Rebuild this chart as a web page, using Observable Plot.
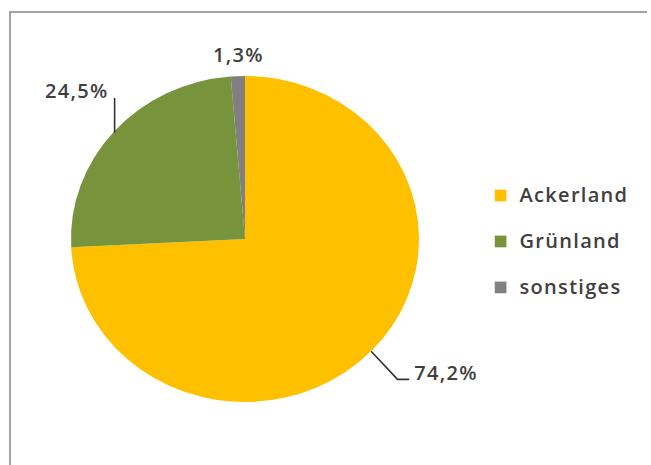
<!DOCTYPE html>
<html>
<head>
<meta charset="utf-8">
<script src="https://cdn.jsdelivr.net/npm/d3@7"></script>
<script src="https://cdn.jsdelivr.net/npm/@observablehq/plot@0.6"></script>
<style>
  html, body { margin: 0; padding: 0; background: #fff; overflow: hidden; }
  #page { position: relative; width: 651px; height: 465px; overflow: hidden; }
  #chart { position: absolute; left: 0; top: 0; }
  #chart svg { display: block; }
  #chart text { letter-spacing: 1.3px; }
  /* chart area border: top and left edges */
  #frame {
    position: absolute; left: 9px; top: 11px; width: 636px; height: 460px;
    border-top: 2px solid #a3a3a3; border-left: 2px solid #a3a3a3; pointer-events: none;
  }
</style>
</head>
<body>
<div id="page">
  <div id="chart"></div>
  <div id="frame"></div>
</div>
<script>
// Land use shares (percent)
const categories = ["Ackerland", "Grünland", "sonstiges"];
const shares = [74.2, 24.5, 1.3];
const shareLabels = ["74,2%", "24,5%", "1,3%"];
const sliceColors = ["#FFC000", "#77933C", "#808080"];

const table = categories.map((category, i) => ({category, share: shares[i], label: shareLabels[i]}));

// Pie angles: start at 12 o'clock, clockwise, in data order
const slices = d3.pie().sort(null).value((d) => d.share)(table);
const mid = (s) => (s.startAngle + s.endAngle) / 2;
// Point on the unit rim (y up) at a given angle
const rim = (a) => [Math.sin(a), Math.cos(a)];

// Label placement relative to the rim point at each slice's mid-angle (unit offsets)
const labelLayout = {
  "Ackerland": {text: [0.245, -0.133], anchor: "start", leader: [[0.149, -0.169], [0.213, -0.169]]},
  "Grünland":  {text: [-0.035, 0.25], anchor: "end", leader: [[0, 0.206]]},
  "sonstiges": {text: [0, 0.129], anchor: "middle", leader: []}
};

const labelRows = slices.map((s) => {
  const [x0, y0] = rim(mid(s));
  const L = labelLayout[s.data.category];
  return {label: s.data.label, x: x0 + L.text[0], y: y0 + L.text[1], anchor: L.anchor};
});

const leaderPoints = slices.flatMap((s) => {
  const [x0, y0] = rim(mid(s));
  const L = labelLayout[s.data.category];
  if (!L.leader.length) return [];
  return [[0, 0], ...L.leader].map(([dx, dy]) => ({category: s.data.category, x: x0 + dx, y: y0 + dy}));
});

// Legend rows (to the right of the pie)
const legendX = 1.466, legendTextX = 1.575, legendTop = 0.27, legendStep = 0.282;
const legendRows = categories.map((category, i) => ({category, y: legendTop - i * legendStep}));

// Pie center and radii in pixels (slightly wider than tall)
const cx = 245, cy = 239, rx = 174, ry = 163;

// Wedges drawn with d3.arc in unit space, placed through the x/y scales
function wedges(index, scales) {
  const x0 = scales.x(0), y0 = scales.y(0);
  const sx = scales.x(1) - x0, sy = y0 - scales.y(1);
  const arc = d3.arc().innerRadius(0).outerRadius(1);
  const g = d3.create("svg:g").attr("transform", `translate(${x0},${y0}) scale(${sx},${sy})`);
  g.selectAll("path")
    .data(slices)
    .join("path")
    .attr("d", arc)
    .attr("fill", (d) => scales.color(d.data.category));
  return g.node();
}

const font = "'Open Sans', sans-serif";
const textStyle = {fontSize: 20, fontWeight: 600, fill: "#404040"};

// One text mark per anchor, since textAnchor is a constant option
const valueLabels = ["start", "middle", "end"].map((anchor) =>
  Plot.text(labelRows.filter((d) => d.anchor === anchor), {
    x: "x", y: "y", text: "label", textAnchor: anchor, ...textStyle
  })
);

const chart = Plot.plot({
  width: 651,
  height: 465,
  margin: 0,
  style: {background: "transparent", fontFamily: font},
  x: {domain: [-1, 1], range: [cx - rx, cx + rx], axis: null},
  y: {domain: [-1, 1], range: [cy + ry, cy - ry], axis: null},
  color: {domain: categories, range: sliceColors},
  marks: [
    wedges,
    Plot.line(leaderPoints, {x: "x", y: "y", z: "category", stroke: "#333", strokeWidth: 1.6}),
    ...valueLabels,
    Plot.dot(legendRows, {x: legendX, y: "y", symbol: "square", r: 6.6, fill: "category", stroke: null}),
    Plot.text(legendRows, {x: legendTextX, y: "y", text: "category", textAnchor: "start", ...textStyle})
  ]
});

document.getElementById("chart").append(chart);
</script>
</body>
</html>
